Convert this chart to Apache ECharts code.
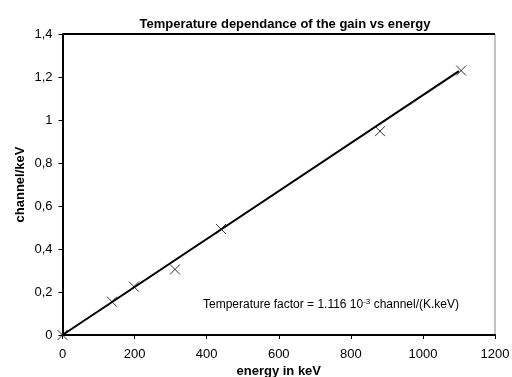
<!DOCTYPE html>
<html>
<head>
<meta charset="utf-8">
<script src="https://cdn.jsdelivr.net/npm/echarts@6/dist/echarts.min.js"></script>
<style>
  html, body { margin: 0; padding: 0; background: #fff; }
  #chart { width: 512px; height: 377px; }
</style>
</head>
<body>
<div id="chart"></div>
<script>
// Measured gain per energy line
const energyKeV = [0, 137, 198, 312, 440, 881, 1106];
const channelPerKeV = [0, 0.155, 0.225, 0.305, 0.493, 0.948, 1.230];

// Linear fit through the origin (slope 1.116e-3 channel/keV)
const fitX = [0, 1100];
const fitY = [0, 1.2276];

const xTicks = [0, 200, 400, 600, 800, 1000, 1200];
const yTicks = [0, 0.2, 0.4, 0.6, 0.8, 1, 1.2, 1.4];

const FONT = '"Liberation Sans", Arial, sans-serif';

const chart = echarts.init(document.getElementById('chart'), null, { renderer: 'canvas' });

chart.setOption({
  backgroundColor: '#fff',
  animation: false,
  title: {
    text: 'Temperature dependance of the gain vs energy',
    left: 280, top: 13, textAlign: 'center',
    textStyle: { fontFamily: FONT, fontSize: 13, fontWeight: 'bold', color: '#000' }
  },
  grid: {
    left: 62.5, right: 17, top: 34, bottom: 42,
    outerBoundsMode: 'none', containLabel: false,
    show: true, borderColor: '#888', borderWidth: 1
  },
  xAxis: {
    type: 'value', min: xTicks[0], max: xTicks[xTicks.length - 1], interval: 200,
    name: 'energy in keV', nameLocation: 'middle', nameGap: 30, nameMoveOverlap: false,
    nameTextStyle: { fontFamily: FONT, fontSize: 13, fontWeight: 'bold', color: '#000' },
    axisLine: { lineStyle: { color: '#000', width: 2 } },
    axisTick: { show: true, length: 4, inside: false, lineStyle: { color: '#000', width: 1 } },
    axisLabel: { fontFamily: FONT, fontSize: 13, color: '#000', margin: 13, formatter: v => String(v) },
    splitLine: { show: false }
  },
  yAxis: {
    type: 'value', min: yTicks[0], max: yTicks[yTicks.length - 1], interval: 0.2,
    name: 'channel/keV', nameLocation: 'middle', nameGap: 36, nameRotate: 90, nameMoveOverlap: false,
    nameTextStyle: { fontFamily: FONT, fontSize: 13, fontWeight: 'bold', color: '#000' },
    axisLine: { show: true, lineStyle: { color: '#000', width: 2 } },
    axisTick: { show: true, length: 4, inside: false, lineStyle: { color: '#000', width: 1 } },
    axisLabel: {
      fontFamily: FONT, fontSize: 13, color: '#000', margin: 10,
      formatter: v => String(Math.round(v * 10) / 10).replace('.', ',')
    },
    splitLine: { show: false }
  },
  graphic: [
    {
      type: 'line', z: 100,
      shape: { x1: 62.5, y1: 34, x2: 495, y2: 34 },
      style: { stroke: '#000', lineWidth: 2 }
    },
    {
      type: 'text', left: 203, top: 298, z: 100,
      style: {
        text: 'Temperature factor = 1.116 10{sup|-3} channel/(K.keV)',
        font: '12px ' + FONT, fill: '#000',
        rich: {
          sup: { fontSize: 8, fontFamily: FONT, fill: '#000', verticalAlign: 'top', padding: [0, 0, 6, 0] }
        }
      }
    }
  ],
  series: [
    {
      type: 'line',
      data: fitX.map((x, i) => [x, fitY[i]]),
      showSymbol: false,
      lineStyle: { color: '#000', width: 2 },
      z: 2
    },
    {
      type: 'scatter',
      data: energyKeV.map((x, i) => [x, channelPerKeV[i]]),
      symbol: 'path://M0,0L10,10M10,0L0,10',
      symbolSize: 10,
      itemStyle: { color: 'none', borderColor: '#000', borderWidth: 1 },
      z: 3
    }
  ]
});
</script>
</body>
</html>
